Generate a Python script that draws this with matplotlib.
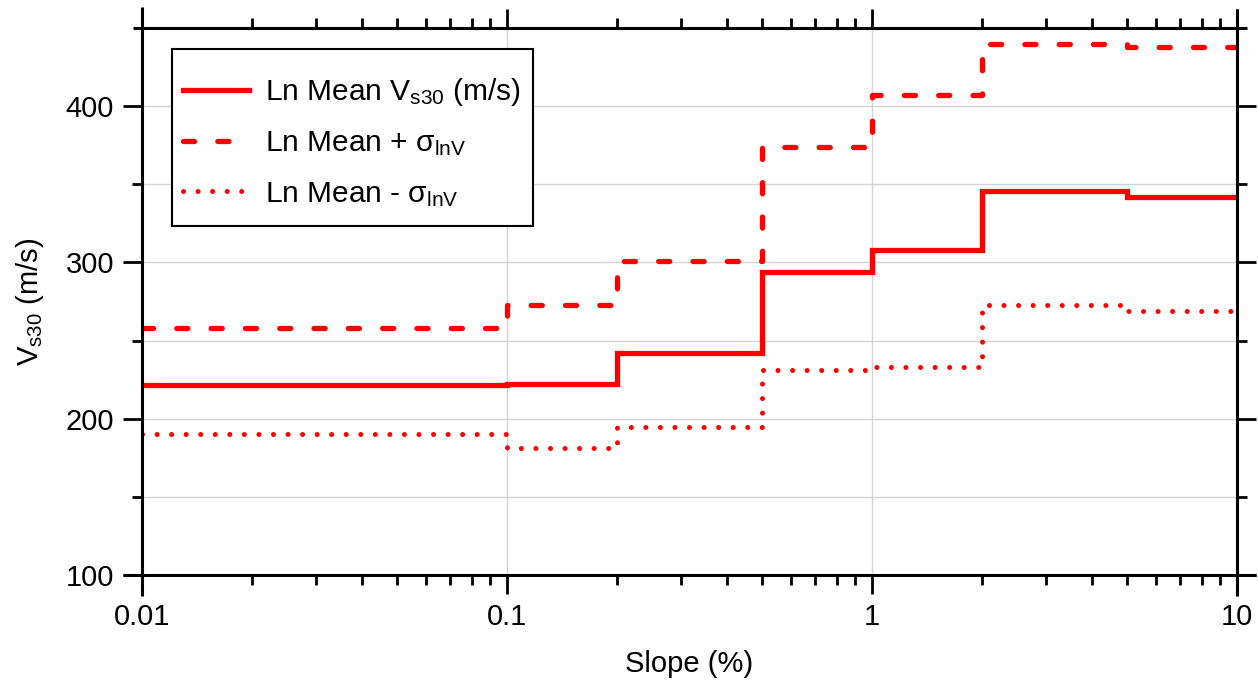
import numpy as np
import matplotlib
matplotlib.use('Agg')
import matplotlib.pyplot as plt
from matplotlib.lines import Line2D
from matplotlib.patches import Rectangle

plt.rcParams['font.family'] = ['Liberation Sans', 'DejaVu Sans']
plt.rcParams['mathtext.fontset'] = 'custom'
plt.rcParams['mathtext.rm'] = 'Liberation Sans'
plt.rcParams['mathtext.it'] = 'Liberation Sans'
plt.rcParams['mathtext.sf'] = 'Liberation Sans'

# Slope bin edges (%) and Vs30 values per bin
slope_edges = [0.01, 0.1, 0.2, 0.5, 1, 2, 5, 10]
vs30_mean = [221.5, 222.5, 242, 294, 308, 346, 342]
vs30_plus = [258, 273, 301, 374, 407, 440, 438]
vs30_minus = [190, 181, 195, 231, 233, 273, 269]

x_ticks = [0.01, 0.1, 1, 10]
x_ticklabels = ['0.01', '0.1', '1', '10']
y_major = [100, 200, 300, 400]
y_minor = [150, 250, 350]

fig = plt.figure(figsize=(12.58, 6.83), dpi=100)
ax = fig.add_axes([142/1258, 1-575/683, (1237-142)/1258, (575-28)/683])

red = '#ff0000'
# step 'post': repeat the last value at the right edge
l1, = ax.step(slope_edges, vs30_mean + vs30_mean[-1:], where='post', color=red, lw=3.8,
              solid_joinstyle='miter', label=r'Ln Mean V$_{\mathrm{s30}}$ (m/s)')
l2, = ax.step(slope_edges, vs30_plus + vs30_plus[-1:], where='post', color=red, lw=3.8,
              dashes=(2.1, 4.4), dash_capstyle='round', label=r'Ln Mean + σ$_{\mathrm{lnV}}$')
l3, = ax.step(slope_edges, vs30_minus + vs30_minus[-1:], where='post', color=red, lw=3.6,
              dashes=(0.01, 2.9), dash_capstyle='round', label=r'Ln Mean - σ$_{\mathrm{lnV}}$')

ax.set_xscale('log')
ax.set_xlim(0.01, 10)
ax.set_ylim(100, 450)
ax.set_xticks(x_ticks)
ax.set_xticklabels(x_ticklabels)
ax.set_yticks(y_major)
ax.set_yticks(y_minor, minor=True)

ax.grid(True, which='major', axis='x', color='#d4d4d4', lw=1)
ax.grid(True, which='both', axis='y', color='#d4d4d4', lw=1)
ax.set_axisbelow(True)

ax.tick_params(which='major', direction='out', length=14, width=2, labelsize=21,
               top=True, right=True, pad=6)
ax.tick_params(which='minor', direction='out', length=7.5, width=2, top=True, right=True)
ax.tick_params(axis='y', which='minor', left=True, right=True)

for s in ax.spines.values():
    s.set_visible(False)
# Origin-style axis lines overshooting the corners
kw = dict(transform=ax.transAxes, color='black', lw=2.2, clip_on=False, solid_capstyle='butt')
ax.add_line(Line2D([0, 0], [-0.038, 1.038], **kw))
ax.add_line(Line2D([1, 1], [-0.038, 1.035], **kw))
ax.add_line(Line2D([-0.017, 1.017], [0, 0], **kw))
ax.add_line(Line2D([-0.008, 1.009], [1, 1], **kw))

ax.set_xlabel('Slope (%)', fontsize=21, labelpad=14)
ax.set_ylabel(r'V$_{\mathrm{s30}}$ (m/s)', fontsize=21, labelpad=14)

# legend box drawn separately so the padding can differ horizontally/vertically
ax.add_patch(Rectangle((30/1095, 1-198/547), 361/1095, 177/547, transform=ax.transAxes,
                       facecolor='white', edgecolor='black', lw=1.5, zorder=4))
leg = ax.legend(handles=[l1, l2, l3], loc='upper left',
                bbox_to_anchor=(41/1095, 1-48/547), borderaxespad=0, borderpad=0,
                fontsize=21.5, frameon=False, handlelength=2.2, handletextpad=0.56,
                labelspacing=0.72)
leg.set_zorder(5)

fig.savefig('out.png', dpi=100)
